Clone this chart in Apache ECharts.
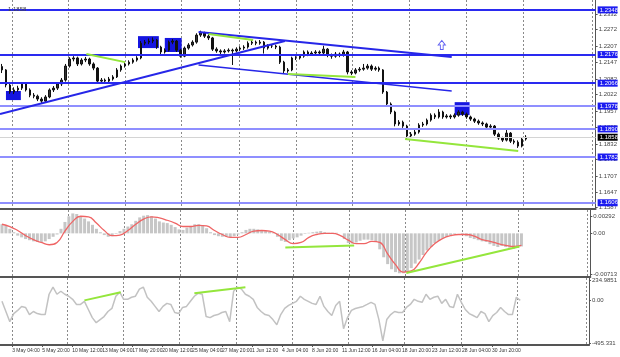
<!DOCTYPE html>
<html><head><meta charset="utf-8">
<script src="https://cdn.jsdelivr.net/npm/echarts@6/dist/echarts.min.js"></script>
<style>html,body{margin:0;padding:0;background:#fff}#c{width:620px;height:357px}</style>
</head><body><div id="c"></div>
<script>
// H4 candles: [open, close, low, high]
const candles = [
[1.2130,1.2117,1.2105,1.2140],[1.2117,1.2059,1.2050,1.2120],[1.2059,1.2032,1.2025,1.2065],[1.2032,1.2040,1.2024,1.2050],
[1.2040,1.2047,1.2033,1.2056],[1.2047,1.2063,1.2040,1.2070],[1.2063,1.2040,1.2034,1.2068],[1.2040,1.2020,1.2012,1.2046],
[1.2020,1.2016,1.2008,1.2028],[1.2016,1.2005,1.1997,1.2022],[1.2005,1.1997,1.1990,1.2012],[1.1997,1.2013,1.1992,1.2020],
[1.2013,1.2040,1.2008,1.2046],[1.2040,1.2047,1.2032,1.2055],[1.2047,1.2063,1.2040,1.2070],[1.2063,1.2078,1.2055,1.2086],
[1.2078,1.2132,1.2072,1.2140],[1.2132,1.2159,1.2126,1.2166],[1.2159,1.2163,1.2150,1.2170],[1.2163,1.2140,1.2132,1.2168],
[1.2140,1.2155,1.2134,1.2162],[1.2155,1.2159,1.2147,1.2167],[1.2159,1.2140,1.2133,1.2164],[1.2140,1.2124,1.2116,1.2146],
[1.2124,1.2074,1.2066,1.2128],[1.2074,1.2078,1.2067,1.2086],[1.2078,1.2074,1.2066,1.2084],[1.2074,1.2082,1.2068,1.2090],
[1.2082,1.2090,1.2076,1.2097],[1.2090,1.2117,1.2086,1.2124],[1.2117,1.2132,1.2110,1.2138],[1.2132,1.2140,1.2126,1.2147],
[1.2140,1.2147,1.2134,1.2154],[1.2147,1.2155,1.2141,1.2162],[1.2155,1.2163,1.2149,1.2170],[1.2163,1.2220,1.2158,1.2228],
[1.2220,1.2224,1.2212,1.2232],[1.2224,1.2228,1.2216,1.2238],[1.2228,1.2232,1.2220,1.2242],[1.2232,1.2205,1.2198,1.2236],
[1.2205,1.2186,1.2178,1.2210],[1.2186,1.2193,1.2180,1.2200],[1.2193,1.2224,1.2188,1.2230],[1.2224,1.2228,1.2216,1.2236],
[1.2228,1.2193,1.2186,1.2232],[1.2193,1.2170,1.2164,1.2198],[1.2170,1.2201,1.2166,1.2207],[1.2201,1.2213,1.2195,1.2220],
[1.2213,1.2224,1.2207,1.2231],[1.2224,1.2251,1.2218,1.2258],[1.2251,1.2259,1.2244,1.2268],[1.2259,1.2247,1.2240,1.2264],
[1.2247,1.2240,1.2232,1.2254],[1.2240,1.2197,1.2190,1.2244],[1.2197,1.2190,1.2183,1.2204],[1.2190,1.2186,1.2178,1.2196],
[1.2186,1.2190,1.2180,1.2197],[1.2190,1.2193,1.2184,1.2200],[1.2193,1.2190,1.2136,1.2199],[1.2190,1.2197,1.2184,1.2204],
[1.2197,1.2201,1.2190,1.2208],[1.2201,1.2205,1.2194,1.2212],[1.2205,1.2220,1.2199,1.2227],[1.2220,1.2224,1.2213,1.2231],
[1.2224,1.2220,1.2212,1.2230],[1.2220,1.2224,1.2214,1.2232],[1.2224,1.2201,1.2180,1.2228],[1.2201,1.2209,1.2195,1.2216],
[1.2209,1.2209,1.2201,1.2216],[1.2209,1.2205,1.2197,1.2214],[1.2205,1.2147,1.2140,1.2210],[1.2147,1.2113,1.2105,1.2152],
[1.2113,1.2117,1.2106,1.2124],[1.2117,1.2163,1.2112,1.2168],[1.2163,1.2163,1.2155,1.2170],[1.2163,1.2170,1.2157,1.2177],
[1.2170,1.2186,1.2164,1.2192],[1.2186,1.2178,1.2170,1.2192],[1.2178,1.2182,1.2172,1.2189],[1.2182,1.2186,1.2176,1.2193],
[1.2186,1.2182,1.2175,1.2192],[1.2182,1.2197,1.2176,1.2210],[1.2197,1.2174,1.2166,1.2201],[1.2174,1.2170,1.2160,1.2180],
[1.2170,1.2178,1.2164,1.2186],[1.2178,1.2174,1.2166,1.2184],[1.2174,1.2186,1.2168,1.2194],[1.2186,1.2109,1.2100,1.2190],
[1.2109,1.2105,1.2097,1.2116],[1.2105,1.2117,1.2100,1.2124],[1.2117,1.2120,1.2110,1.2128],[1.2120,1.2124,1.2114,1.2140],
[1.2124,1.2132,1.2118,1.2140],[1.2132,1.2120,1.2113,1.2138],[1.2120,1.2124,1.2114,1.2131],[1.2124,1.2117,1.2110,1.2130],
[1.2117,1.2032,1.2025,1.2120],[1.2032,1.1986,1.1978,1.2036],[1.1986,1.1955,1.1947,1.1992],[1.1955,1.1909,1.1900,1.1960],
[1.1909,1.1916,1.1902,1.1924],[1.1916,1.1901,1.1894,1.1922],[1.1901,1.1863,1.1850,1.1906],[1.1863,1.1870,1.1856,1.1878],
[1.1870,1.1878,1.1864,1.1886],[1.1878,1.1905,1.1872,1.1912],[1.1905,1.1909,1.1898,1.1917],[1.1909,1.1924,1.1903,1.1930],
[1.1924,1.1943,1.1918,1.1950],[1.1943,1.1936,1.1928,1.1950],[1.1936,1.1955,1.1930,1.1966],[1.1955,1.1936,1.1929,1.1960],
[1.1936,1.1940,1.1930,1.1947],[1.1940,1.1936,1.1928,1.1946],[1.1936,1.1943,1.1930,1.1950],[1.1943,1.1955,1.1937,1.1962],
[1.1955,1.1947,1.1940,1.1960],[1.1947,1.1936,1.1929,1.1953],[1.1936,1.1928,1.1921,1.1941],[1.1928,1.1920,1.1913,1.1933],
[1.1920,1.1913,1.1906,1.1926],[1.1913,1.1909,1.1901,1.1919],[1.1909,1.1897,1.1890,1.1914],[1.1897,1.1901,1.1890,1.1908],
[1.1901,1.1870,1.1863,1.1905],[1.1870,1.1855,1.1848,1.1876],[1.1855,1.1847,1.1840,1.1860],[1.1847,1.1874,1.1842,1.1886],
[1.1874,1.1843,1.1836,1.1878],[1.1843,1.1839,1.1831,1.1850],[1.1839,1.1824,1.1817,1.1846],[1.1824,1.1851,1.1819,1.1858],
[1.1851,1.1858,1.1845,1.1866]
];
const macdHist = [
0.0016,0.0014,0.0008,0.0002,-0.0004,-0.0007,-0.0010,-0.0012,-0.0014,-0.0015,-0.0016,-0.0014,-0.0010,-0.0006,-0.0002,0.0008,
0.0020,0.0030,0.0035,0.0034,0.0030,0.0026,0.0021,0.0015,0.0008,0.0002,-0.0003,-0.0006,-0.0005,-0.0001,0.0004,0.0008,
0.0012,0.0016,0.0022,0.0028,0.0031,0.0032,0.0030,0.0026,0.0021,0.0019,0.0018,0.0015,0.0011,0.0007,0.0006,0.0010,
0.0013,0.0016,0.0016,0.0014,0.0009,0.0002,-0.0003,-0.0005,-0.0006,-0.0006,-0.0007,-0.0005,-0.0002,0.0002,0.0006,0.0008,
0.0008,0.0007,0.0005,0.0004,0.0003,0.0001,-0.0006,-0.0013,-0.0015,-0.0012,-0.0009,-0.0007,-0.0004,-0.0001,0.0001,0.0002,
0.0003,0.0004,0.0002,0.0001,0.0001,0.0001,0.0000,-0.0010,-0.0017,-0.0018,-0.0016,-0.0013,-0.0011,-0.0011,-0.0012,-0.0014,
-0.0028,-0.0042,-0.0054,-0.0063,-0.0068,-0.0070,-0.0070,-0.0066,-0.0061,-0.0053,-0.0046,-0.0038,-0.0030,-0.0024,-0.0017,-0.0013,
-0.0009,-0.0006,-0.0003,-0.0001,0.0000,-0.0002,-0.0005,-0.0008,-0.0010,-0.0012,-0.0014,-0.0015,-0.0019,-0.0022,-0.0024,-0.0022,
-0.0024,-0.0025,-0.0027,-0.0025,-0.0023
];
// signal line, sampled every 2 bars
const macdSignal = [
0.0016,0.0012,0.0005,-0.0004,-0.0011,-0.0016,-0.0020,-0.0016,0.0004,0.0021,0.0030,0.0029,0.0018,0.0005,-0.0004,-0.0003,
0.0005,0.0016,0.0025,0.0029,0.0027,0.0023,0.0018,0.0012,0.0012,0.0014,0.0013,0.0005,-0.0002,-0.0007,-0.0007,-0.0002,
0.0004,0.0005,0.0004,-0.0002,-0.0011,-0.0018,-0.0016,-0.0007,-0.0002,0.0000,0.0000,-0.0004,-0.0012,-0.0018,-0.0018,-0.0014,
-0.0016,-0.0036,-0.0055,-0.0068,-0.0066,-0.0052,-0.0032,-0.0018,-0.0009,-0.0004,-0.0002,-0.0002,-0.0005,-0.0011,-0.0014,-0.0018,
-0.0021,-0.0023,-0.0021
];
const cci = [
-12,-130,-248,-154,-118,-71,-83,-166,-130,-154,-166,-166,70,153,70,105,
70,47,11,-48,-48,-12,-107,-201,-260,-224,-189,-130,-95,47,94,11,
11,35,47,129,153,35,-12,-71,-130,-71,-36,-48,-142,-154,-83,-71,
-12,47,82,70,-189,-201,-177,-166,-142,-130,-248,105,153,129,70,47,
11,-83,-130,-166,-177,-224,-283,-166,-95,-60,-36,-12,47,11,-12,-36,
-48,47,-71,-130,-177,-60,-12,-330,-201,-118,-95,-83,-71,-48,-24,-48,
-224,-470,-224,-166,-130,-142,-142,-83,-48,11,-12,-24,70,11,35,47,
-36,11,-71,-83,70,-24,-107,-154,-177,-201,-130,-154,-248,-177,-142,-83,
-130,-166,-166,35,-1
];
const fibLevels = [1.2348, 1.2176, 1.2066, 1.1978, 1.1890, 1.1782, 1.1606];
const fibNames = ['0.0', '23.6', '38.2', '50.0', '61.8', '76.4', '100.0'];
const lastPrice = 1.1858;
const priceTicks = [1.2332, 1.2272, 1.2207, 1.2147, 1.2082, 1.2022, 1.1957, 1.1895, 1.1832, 1.1772, 1.1707, 1.1647, 1.1587];
const macdTicks = [0.00292, 0, -0.00713];
const macdTickText = ['0.00292', '0.00', '-0.00713'];
const cciTicks = [234.9851, 0, -495.331];
const cciTickText = ['234.9851', '0.00', '-495.331'];
const timeLabels = ['3 May 04:00','5 May 20:00','10 May 12:00','13 May 04:00','17 May 20:00','20 May 12:00','25 May 04:00','27 May 20:00','1 Jun 12:00','4 Jun 04:00','8 Jun 20:00','11 Jun 12:00','16 Jun 04:00','18 Jun 20:00','23 Jun 12:00','28 Jun 04:00','30 Jun 20:00'];
const timeLabelBars = [2.6,10.24,17.88,25.51,33.15,40.79,48.43,56.06,63.7,71.34,78.98,86.61,94.25,101.89,109.53,117.16,124.8];
const gridBars = [2.5,16.75,31,45.25,59.75,74,88.25,102.5,117,131.25,148.75];
// drawn lines: [[bar, price],[bar, price]]
const blueLines = [[[-0.5,1.1947],[71.25,1.2228]], [[49.5,1.2263],[113.25,1.2167]]];
const blueThinLines = [[[49.5,1.2136],[113.25,1.2036]]];
const greenPriceLines = [[[21.25,1.2178],[31,1.2147]], [[52,1.2255],[63.25,1.2232]], [[72,1.2101],[89,1.2090]], [[101.5,1.1851],[130,1.1805]]];
const greenMacdLines = [[[72,-0.0025],[89.5,-0.00214]], [[102.75,-0.00695],[131.5,-0.00232]]];
const greenCciLines = [[[21,-1],[30.25,94]], [[49,82],[62,152]]];
const boxes = [[[1,1.2036],[4.75,1.2001]], [[34.25,1.2247],[39.5,1.2201]], [[41,1.2240],[45.25,1.2186]], [[114,1.1993],[117.75,1.1943]]];
const arrowPoint = [110.75, 1.2213];

const FONT = 'Liberation Sans';
const X0 = -0.5, X1 = 149.5;
const seg = (arr, style) => arr.map(s => [{coord: s[0], lineStyle: style}, {coord: s[1]}]);
const gridSplit = {show: true, lineStyle: {type: [2, 2], color: '#8a8a8a', width: 1}};

const fibMarks = [];
fibLevels.forEach((v, i) => {
  const light = i >= 3;
  fibMarks.push({yAxis: v, lineStyle: {color: light ? '#8f8fff' : '#2a2af0', width: 2, type: 'solid'},
    label: {show: true, position: 'end', distance: 2, formatter: v.toFixed(4), backgroundColor: '#1c1cf0',
      color: '#fff', fontSize: 6, fontFamily: FONT, padding: [1, 1, 0, 2], width: 17}});
  fibMarks.push({yAxis: v, lineStyle: {opacity: 0},
    label: {show: true, position: 'insideEndTop', distance: 1, formatter: fibNames[i], color: '#3a3aff',
      fontSize: 5, fontFamily: FONT}});
});
fibMarks.push({yAxis: lastPrice, lineStyle: {color: '#d4d4d4', width: 1, type: 'solid'},
  label: {show: true, position: 'end', distance: 2, formatter: lastPrice.toFixed(4), backgroundColor: '#000',
    color: '#fff', fontSize: 6, fontFamily: FONT, padding: [1, 1, 0, 2], width: 17}});

const axisX = (gi, extra) => Object.assign({type: 'value', gridIndex: gi, min: X0, max: X1,
  splitLine: gridSplit, axisLine: {show: true, onZero: false, lineStyle: {color: '#555', width: 2}},
  axisTick: {show: false, customValues: gridBars}, axisLabel: {show: false}}, extra || {});
const axisY = (gi, min, max, vals, fmt) => ({type: 'value', gridIndex: gi, position: 'right', min: min, max: max,
  splitLine: {show: false}, axisLine: {show: true, onZero: false, lineStyle: {color: '#555', width: 1}},
  axisTick: {show: true, length: 2, customValues: vals, lineStyle: {color: '#555'}},
  axisLabel: {show: true, customValues: vals, formatter: fmt, fontSize: 6, fontFamily: FONT, color: '#444', margin: 3}});

const option = {
  animation: false,
  backgroundColor: '#fff',
  title: {text: '1.1858', left: 3, top: 1, textStyle: {fontSize: 6, fontFamily: FONT, color: '#444', fontWeight: 'normal'}},
  grid: [
    {left: 0, right: 20, top: 0, height: 209},
    {left: 0, right: 20, top: 210, height: 67},
    {left: 0, right: 20, top: 278, height: 67}
  ],
  xAxis: [
    axisX(0), axisX(1),
    axisX(2, {splitLine: {show: false},
      axisTick: {show: true, length: 2, inside: false, customValues: timeLabelBars, lineStyle: {color: '#555'}},
      axisLabel: {show: true, customValues: timeLabelBars, align: 'left', margin: 3, fontSize: 5, fontFamily: FONT, color: '#333',
        hideOverlap: false, showMinLabel: true, showMaxLabel: true,
        formatter: v => { const k = timeLabelBars.findIndex(t => Math.abs(t - v) < 0.01); return k >= 0 ? timeLabels[k] : ''; }}}),
    axisX(2, {position: 'top', axisLine: {show: false}})
  ],
  yAxis: [
    axisY(0, 1.1582, 1.2386, priceTicks, v => v.toFixed(4)),
    axisY(1, -0.00766, 0.0041, macdTicks, v => { const k = macdTicks.findIndex(t => Math.abs(t - v) < 1e-7); return k >= 0 ? macdTickText[k] : ''; }),
    axisY(2, -518.89, 258.54, cciTicks, v => { const k = cciTicks.findIndex(t => Math.abs(t - v) < 0.01); return k >= 0 ? cciTickText[k] : ''; })
  ],
  series: [
    {type: 'line', xAxisIndex: 0, yAxisIndex: 0, data: [], z: 2,
      markArea: {silent: true, itemStyle: {color: '#1515e0', opacity: 1}, data: boxes.map(b => [{coord: b[0]}, {coord: b[1]}])},
      markLine: {silent: true, symbol: 'none', precision: 4, data: fibMarks}},
    {type: 'candlestick', xAxisIndex: 0, yAxisIndex: 0, z: 4, barWidth: 2,
      data: candles.map((c, i) => [i, c[0], c[1], c[2], c[3]]),
      encode: {x: 0, y: [1, 2, 3, 4]},
      itemStyle: {color: '#333', color0: '#111', borderColor: '#111', borderColor0: '#111', borderWidth: 1}},
    {type: 'line', xAxisIndex: 0, yAxisIndex: 0, data: [], z: 5,
      markLine: {silent: true, symbol: 'none', label: {show: false},
        data: seg(blueLines, {color: '#2626e8', width: 2, type: 'solid'})
          .concat(seg(blueThinLines, {color: '#2626e8', width: 1.5, type: 'solid'}))
          .concat(seg(greenPriceLines, {color: '#94e63c', width: 2, type: 'solid'}))}},
    {type: 'scatter', xAxisIndex: 0, yAxisIndex: 0, z: 6, data: [arrowPoint],
      symbol: 'path://M5,0 L10,5 L7,5 L7,10 L3,10 L3,5 L0,5 Z', symbolSize: [7, 9],
      itemStyle: {color: '#fff', borderColor: '#3a3aee', borderWidth: 1}},
    // MACD
    {type: 'bar', xAxisIndex: 1, yAxisIndex: 1, z: 2, barWidth: 3,
      data: macdHist.map((v, i) => [i, v]), itemStyle: {color: '#c6c6c6'}},
    {type: 'line', xAxisIndex: 1, yAxisIndex: 1, z: 3, smooth: true, symbol: 'none',
      data: macdSignal.map((v, k) => [k * 2, v]), lineStyle: {color: '#ef6464', width: 1.3}},
    {type: 'line', xAxisIndex: 1, yAxisIndex: 1, data: [], z: 4,
      markLine: {silent: true, symbol: 'none', label: {show: false}, data: seg(greenMacdLines, {color: '#94e63c', width: 2, type: 'solid'})}},
    // CCI
    {type: 'line', xAxisIndex: 2, yAxisIndex: 2, z: 3, symbol: 'none',
      data: cci.map((v, i) => [i, v]), lineStyle: {color: '#c2c2c2', width: 1.5}},
    {type: 'line', xAxisIndex: 2, yAxisIndex: 2, data: [], z: 4,
      markLine: {silent: true, symbol: 'none', label: {show: false}, data: seg(greenCciLines, {color: '#94e63c', width: 2, type: 'solid'})}}
  ]
};
const chart = echarts.init(document.getElementById('c'), null, {renderer: 'canvas'});
chart.setOption(option);
</script>
</body></html>
